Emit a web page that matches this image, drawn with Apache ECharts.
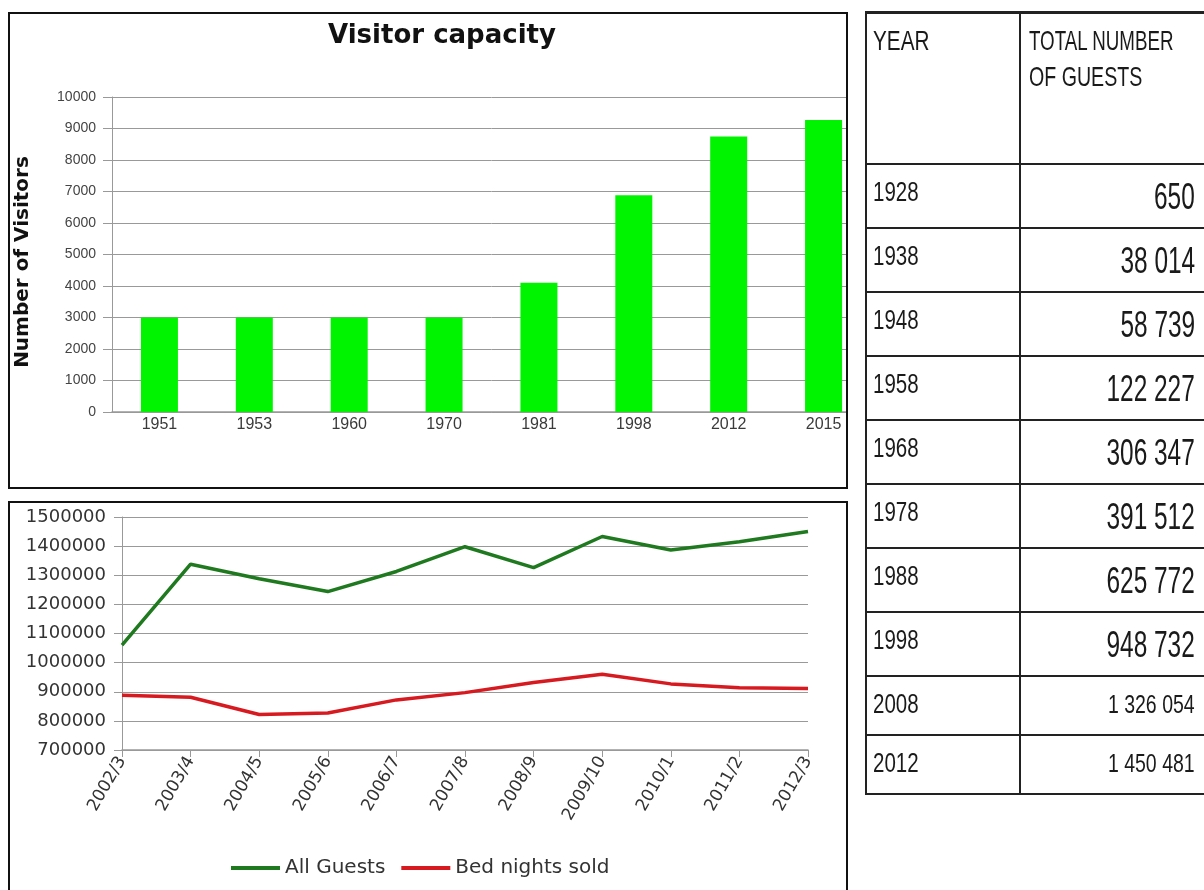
<!DOCTYPE html>
<html>
<head>
<meta charset="utf-8">
<title>Visitor capacity</title>
<script src="https://cdn.jsdelivr.net/npm/echarts@6/dist/echarts.min.js"></script>
<style>
  html, body { margin: 0; padding: 0; background: #fff; }
  body { width: 1204px; height: 890px; position: relative; overflow: hidden; font-family: 'Liberation Sans', Arial, sans-serif; }
  .box { position: absolute; border: 2px solid #111; box-sizing: border-box; overflow: hidden; background: #fff; }
  #capBox { left: 8px; top: 12px; width: 840px; height: 477px; }
  #guestBox { left: 8px; top: 501px; width: 840px; height: 400px; }
  #capChart { position: absolute; left: 0; top: 0; width: 900px; height: 473px; }
  #guestChart { position: absolute; left: 0; top: 0; width: 836px; height: 396px; }
  #guestTable { position: absolute; left: 0; top: 0; width: 1204px; height: 890px; }
  .ln { position: absolute; background: #222; }
  .cell { position: absolute; white-space: nowrap; line-height: 1; color: #1a1a1a; }
</style>
</head>
<body>
<div class="box" id="capBox"><div id="capChart"></div></div>
<div class="box" id="guestBox"><div id="guestChart"></div></div>
<div id="guestTable"></div>
<script>
// --- data ---
const capacityYears = ['1951', '1953', '1960', '1970', '1981', '1998', '2012', '2015'];
const capacity = [3000, 3000, 3000, 3000, 4100, 6880, 8750, 9270];

const seasons = ['2002/3', '2003/4', '2004/5', '2005/6', '2006/7', '2007/8', '2008/9', '2009/10', '2010/1', '2011/2', '2012/3'];
const allGuests = [1060000, 1338000, 1288000, 1244000, 1313000, 1398000, 1326054, 1433000, 1387000, 1415000, 1450481];
const bedNights = [888000, 881000, 822000, 827000, 872000, 897000, 932000, 960000, 927000, 914000, 911000];

const tableYears = ['1928', '1938', '1948', '1958', '1968', '1978', '1988', '1998', '2008', '2012'];
const tableGuests = [650, 38014, 58739, 122227, 306347, 391512, 625772, 948732, 1326054, 1450481];

const plain = v => String(v);

// --- bar chart: visitor capacity ---
const capChart = echarts.init(document.getElementById('capChart'));
capChart.setOption({
    animation: false,
    graphic: [
        {
            type: 'text', x: 432, y: 22,
            style: { text: 'Visitor capacity', font: 'bold 26px "DejaVu Sans"', fill: '#111', align: 'center', verticalAlign: 'middle' }
        },
        {
            type: 'text', x: 12.5, y: 248, rotation: Math.PI / 2,
            style: { text: 'Number of Visitors', font: 'bold 20px "DejaVu Sans"', fill: '#111', align: 'center', verticalAlign: 'middle' }
        }
    ],
    grid: { left: 102, top: 83, width: 759, height: 315 },
    xAxis: {
        type: 'category',
        data: capacityYears,
        axisLine: { lineStyle: { color: '#999', width: 1.5 } },
        axisTick: { show: false },
        axisLabel: { color: '#3a3a3a', fontFamily: 'Liberation Sans', fontSize: 16, margin: 5 }
    },
    yAxis: {
        type: 'value', min: 0, max: 10000, interval: 1000,
        axisLine: { show: true, lineStyle: { color: '#999' } },
        axisTick: { show: true, length: 9, lineStyle: { color: '#999' } },
        axisLabel: { color: '#444', fontFamily: 'Liberation Sans', fontSize: 14, margin: 16, formatter: plain },
        splitLine: { lineStyle: { color: '#999', width: 1 } }
    },
    series: [{
        type: 'bar',
        data: capacity,
        barWidth: '39%',
        itemStyle: { color: '#00f400' }
    }]
});

// --- line chart: guests / bed nights ---
const guestChart = echarts.init(document.getElementById('guestChart'));
guestChart.setOption({
    animation: false,
    grid: { left: 112, top: 14, width: 686, height: 233 },
    legend: {
        left: 216, top: 350,
        icon: 'rect', itemWidth: 49, itemHeight: 4, itemGap: 16,
        textStyle: { fontFamily: 'DejaVu Sans', fontSize: 20, color: '#333' },
        data: ['All Guests', 'Bed nights sold']
    },
    xAxis: {
        type: 'category',
        boundaryGap: false,
        data: seasons,
        axisLine: { lineStyle: { color: '#999', width: 1.5 } },
        axisTick: { show: true, length: 7, lineStyle: { color: '#999' } },
        axisLabel: { interval: 0, rotate: 60, margin: 8, color: '#333', fontFamily: 'DejaVu Sans', fontSize: 17 }
    },
    yAxis: {
        type: 'value', min: 700000, max: 1500000, interval: 100000,
        axisLine: { show: true, lineStyle: { color: '#999' } },
        axisTick: { show: true, length: 8, lineStyle: { color: '#999' } },
        axisLabel: { color: '#333', fontFamily: 'DejaVu Sans', fontSize: 18, margin: 16, formatter: plain },
        splitLine: { lineStyle: { color: '#999', width: 1 } }
    },
    series: [
        {
            name: 'All Guests', type: 'line', data: allGuests, symbol: 'none',
            lineStyle: { color: '#1f7a1f', width: 3.5 }, itemStyle: { color: '#1f7a1f' }
        },
        {
            name: 'Bed nights sold', type: 'line', data: bedNights, symbol: 'none',
            lineStyle: { color: '#d71920', width: 3.5 }, itemStyle: { color: '#d71920' }
        }
    ]
});

// --- table: total number of guests ---
const tbl = document.getElementById('guestTable');
const T_LEFT = 865, T_TOP = 11, T_RIGHT = 1210, COL_X = 1019;
const HEAD_H = 153, ROW_H = 64, SMALL_ROW_H = 59;

function rule(l, t, w, h) {
    const d = document.createElement('div');
    d.className = 'ln';
    Object.assign(d.style, { left: l + 'px', top: t + 'px', width: w + 'px', height: h + 'px' });
    tbl.appendChild(d);
}

// text placed by baseline, squeezed horizontally like the scanned table
function cell(str, x, baseline, fs, sx, align) {
    const d = document.createElement('div');
    d.className = 'cell';
    d.textContent = str;
    d.style.fontSize = fs + 'px';
    d.style.top = (baseline - 0.8465 * fs) + 'px';
    if (align === 'right') {
        d.style.right = (1204 - x) + 'px';
        d.style.transformOrigin = 'right center';
    } else {
        d.style.left = x + 'px';
        d.style.transformOrigin = 'left center';
    }
    d.style.transform = 'scaleX(' + sx + ')';
    tbl.appendChild(d);
}

const fmtGuests = v => String(v).replace(/\B(?=(\d{3})+(?!\d))/g, ' ');

// row tops
const rowTops = [];
let y = T_TOP + HEAD_H;
tableYears.forEach((yr, i) => {
    rowTops.push(y);
    y += i < 8 ? ROW_H : SMALL_ROW_H;
});
const T_BOTTOM = y;

rule(T_LEFT, T_TOP, T_RIGHT - T_LEFT, 2.5);
rule(T_LEFT, T_TOP, 2, T_BOTTOM - T_TOP + 1);
rule(COL_X, T_TOP, 1.5, T_BOTTOM - T_TOP + 1);
rule(T_LEFT, T_BOTTOM - 1, T_RIGHT - T_LEFT, 2);
rowTops.forEach(t => rule(T_LEFT, t - 1, T_RIGHT - T_LEFT, 2));

cell('YEAR', 873, 51, 28, 0.74);
cell('TOTAL NUMBER', 1029, 51, 28, 0.67);
cell('OF GUESTS', 1029, 87, 28, 0.7);

tableYears.forEach((yr, i) => {
    const t = rowTops[i];
    cell(yr, 873, t + 38, 27, 0.76);
    if (i < 8) cell(fmtGuests(tableGuests[i]), 1195, t + 45, 37, 0.66, 'right');
    else cell(fmtGuests(tableGuests[i]), 1195, t + 37, 26, 0.75, 'right');
});

window.addEventListener('resize', () => { capChart.resize(); guestChart.resize(); });
</script>
</body>
</html>
